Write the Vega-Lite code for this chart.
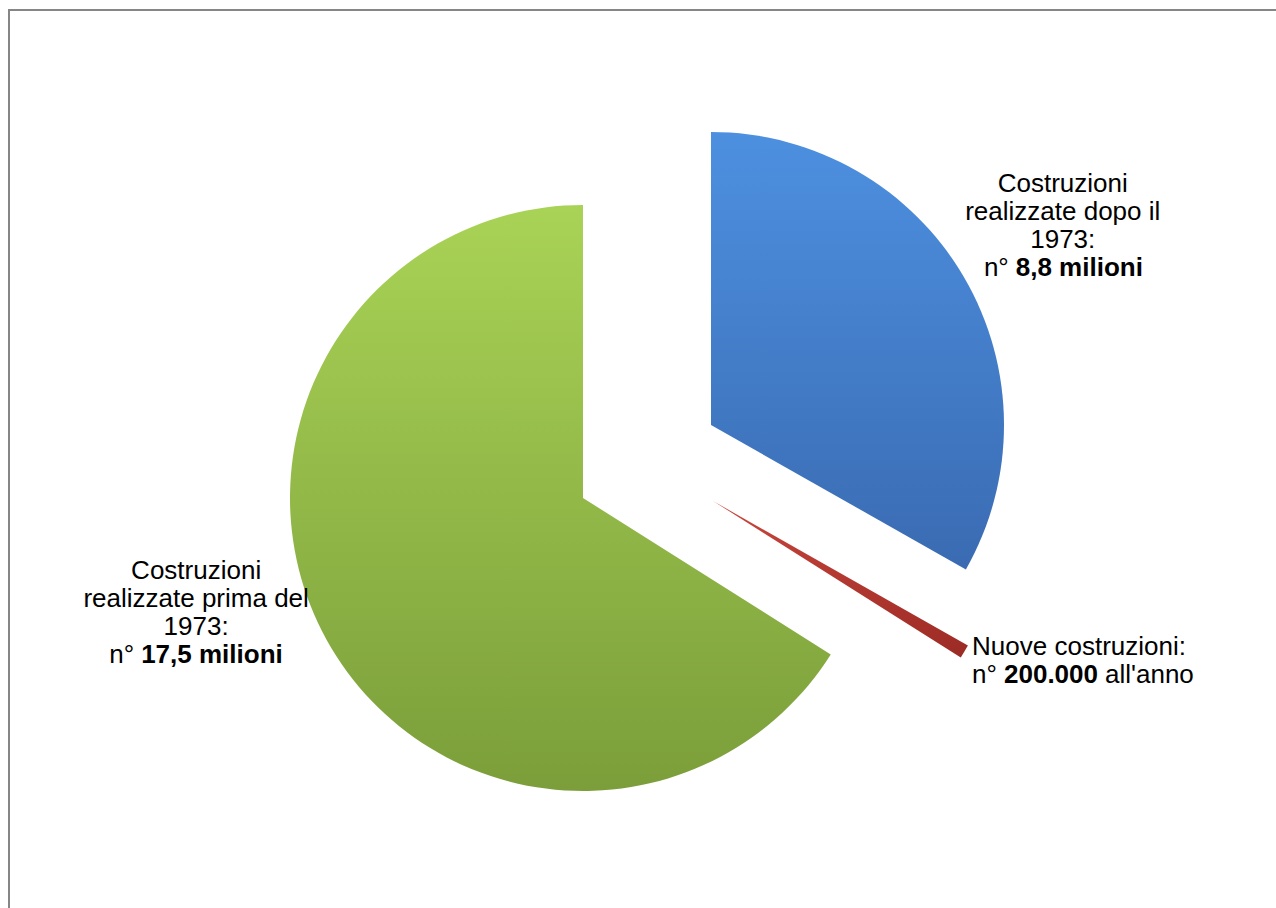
{
  "$schema": "https://vega.github.io/schema/vega-lite/v6.json",
  "width": 1400,
  "height": 920,
  "autosize": {"type": "none"},
  "padding": {"left": 9, "top": 10, "right": -133, "bottom": -22},
  "background": "white",
  "view": {"stroke": "#868686", "strokeWidth": 2, "fill": "white"},
  "config": {
    "view": {"stroke": "#868686", "strokeWidth": 2},
    "text": {"font": "Liberation Sans", "fontSize": 26, "fill": "#000000"}
  },
  "data": {
    "values": [
      {"cat": "dopo", "ord": 1, "value": 8.8, "lines": "Costruzioni\nrealizzate dopo il\n1973:", "pre": "n°", "bold": "8,8 milioni", "post": ""},
      {"cat": "nuove", "ord": 2, "value": 0.2, "lines": "Nuove costruzioni:", "pre": "n°", "bold": "200.000", "post": "all'anno"},
      {"cat": "prima", "ord": 3, "value": 17.5, "lines": "Costruzioni\nrealizzate prima del\n1973:", "pre": "n°", "bold": "17,5 milioni", "post": ""}
    ]
  },
  "encoding": {
    "theta": {"field": "value", "type": "quantitative", "stack": true},
    "order": {"field": "ord", "type": "quantitative"}
  },
  "layer": [
    {
      "mark": {"type": "arc", "outerRadius": 293, "xOffset": 2, "yOffset": -45,
        "fill": {"gradient": "linear", "x1": 0, "y1": 0, "x2": 0, "y2": 1,
          "stops": [{"offset": 0, "color": "#4d90e0"}, {"offset": 1, "color": "#3a6bb2"}]}},
      "encoding": {"opacity": {"condition": {"test": "datum.cat === 'dopo'", "value": 1}, "value": 0}}
    },
    {
      "mark": {"type": "arc", "outerRadius": 293, "xOffset": 4, "yOffset": 31,
        "fill": {"gradient": "linear", "x1": 0, "y1": 0, "x2": 1, "y2": 1,
          "stops": [{"offset": 0, "color": "#c9463d"}, {"offset": 1, "color": "#9c2b25"}]}},
      "encoding": {"opacity": {"condition": {"test": "datum.cat === 'nuove'", "value": 1}, "value": 0}}
    },
    {
      "mark": {"type": "arc", "outerRadius": 293, "xOffset": -126, "yOffset": 28,
        "fill": {"gradient": "linear", "x1": 0, "y1": 0, "x2": 0, "y2": 1,
          "stops": [{"offset": 0, "color": "#a9d356"}, {"offset": 1, "color": "#7b9e3a"}]}},
      "encoding": {"opacity": {"condition": {"test": "datum.cat === 'prima'", "value": 1}, "value": 0}}
    },
    {
      "mark": {"type": "text", "radius": 480, "dx": -61, "dy": -36, "align": "center", "baseline": "alphabetic", "lineBreak": "\n", "lineHeight": 28},
      "encoding": {"text": {"condition": {"test": "datum.cat === 'dopo'", "field": "lines", "type": "nominal"}, "value": ""}}
    },
    {
      "mark": {"type": "text", "radius": 480, "dx": -115, "dy": 48, "align": "right", "baseline": "alphabetic"},
      "encoding": {"text": {"condition": {"test": "datum.cat === 'dopo'", "field": "pre", "type": "nominal"}, "value": ""}}
    },
    {
      "mark": {"type": "text", "radius": 480, "dx": -108, "dy": 48, "align": "left", "baseline": "alphabetic", "fontWeight": "bold"},
      "encoding": {"text": {"condition": {"test": "datum.cat === 'dopo'", "field": "bold", "type": "nominal"}, "value": ""}}
    },
    {
      "mark": {"type": "text", "radius": 500, "dx": -75, "dy": -132, "align": "center", "baseline": "alphabetic", "lineBreak": "\n", "lineHeight": 28},
      "encoding": {"text": {"condition": {"test": "datum.cat === 'prima'", "field": "lines", "type": "nominal"}, "value": ""}}
    },
    {
      "mark": {"type": "text", "radius": 500, "dx": -137, "dy": -48, "align": "right", "baseline": "alphabetic"},
      "encoding": {"text": {"condition": {"test": "datum.cat === 'prima'", "field": "pre", "type": "nominal"}, "value": ""}}
    },
    {
      "mark": {"type": "text", "radius": 500, "dx": -130, "dy": -48, "align": "left", "baseline": "alphabetic", "fontWeight": "bold"},
      "encoding": {"text": {"condition": {"test": "datum.cat === 'prima'", "field": "bold", "type": "nominal"}, "value": ""}}
    },
    {
      "mark": {"type": "text", "radius": 500, "dx": -59, "dy": -72, "align": "center", "baseline": "alphabetic"},
      "encoding": {"text": {"condition": {"test": "datum.cat === 'nuove'", "field": "lines", "type": "nominal"}, "value": ""}}
    },
    {
      "mark": {"type": "text", "radius": 500, "dx": -166, "dy": -44, "align": "left", "baseline": "alphabetic"},
      "encoding": {"text": {"condition": {"test": "datum.cat === 'nuove'", "field": "pre", "type": "nominal"}, "value": ""}}
    },
    {
      "mark": {"type": "text", "radius": 500, "dx": -134, "dy": -44, "align": "left", "baseline": "alphabetic", "fontWeight": "bold"},
      "encoding": {"text": {"condition": {"test": "datum.cat === 'nuove'", "field": "bold", "type": "nominal"}, "value": ""}}
    },
    {
      "mark": {"type": "text", "radius": 500, "dx": -33, "dy": -44, "align": "left", "baseline": "alphabetic"},
      "encoding": {"text": {"condition": {"test": "datum.cat === 'nuove'", "field": "post", "type": "nominal"}, "value": ""}}
    }
  ]
}
